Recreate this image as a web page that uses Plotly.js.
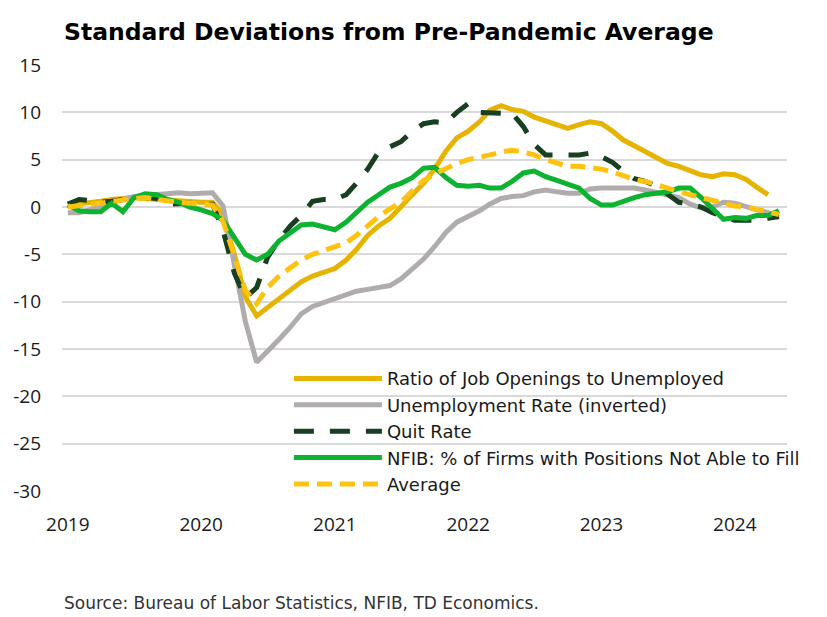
<!DOCTYPE html>
<html>
<head>
<meta charset="utf-8">
<script src="https://cdn.plot.ly/plotly-3.0.1.min.js"></script>
<style>
  html, body { margin: 0; padding: 0; background: #fff; }
  #chart { width: 827px; height: 617px; }
</style>
</head>
<body>
<div id="chart"></div>
<script>
// monthly observations, Jan 2019 onward
const months = [];
for (let y = 2019; y <= 2024; y++) {
  for (let m = 1; m <= 12; m++) months.push(`${y}-${String(m).padStart(2, '0')}-01`);
}

const ratioJobs = [
  0.2, 0.3, 0.5, 0.6, 0.8, 0.9, 1.0, 0.9, 0.8, 0.7, 0.6, 0.5,
  0.5, 0.5, -0.8, -5.0, -9.5, -11.5, -10.6, -9.8, -8.8, -7.9, -7.3, -6.9,
  -6.5, -5.6, -4.5, -3.0, -2.0, -1.2, 0.1, 1.3, 2.5, 4.0, 5.9, 7.3,
  8.0, 9.0, 10.2, 10.7, 10.3, 10.1, 9.5, 9.1, 8.6, 8.3, 8.7, 9.0,
  8.8, 8.0, 7.1, 6.5, 5.9, 5.2, 4.6, 4.3, 3.8, 3.4, 3.2, 3.5,
  3.4, 2.9, 2.1, 1.3
];
const unempInv = [
  -0.6, -0.6, -0.3, 0.1, 0.5, 0.8, 1.1, 1.2, 1.3, 1.5, 1.5, 1.4,
  1.4, 1.5, 0.1, -5.8, -12.1, -16.4, -15.3, -14.0, -12.7, -11.3, -10.5, -10.1,
  -9.7, -9.2, -8.9, -8.7, -8.5, -8.3, -7.6, -6.6, -5.5, -4.2, -2.7, -1.6,
  -1.0, -0.4, 0.3, 0.9, 1.1, 1.2, 1.6, 1.8, 1.6, 1.45, 1.45, 1.9,
  2.0, 2.0, 2.0, 2.0, 1.8, 1.5, 1.3, 1.0, 0.3, -0.1, 0.0, 0.5,
  0.4, 0.0, -0.3, -0.6, -1.1
];
const quitRate = [
  0.3, 0.8, 0.7, 0.5, 0.6, 0.8, 1.0, 1.0, 0.9, 0.3, 0.4, 0.4,
  0.3, 0.3, -2.5, -7.0, -9.6, -8.5, -5.3, -3.5, -2.0, -0.9, 0.6, 0.8,
  0.8, 1.3, 2.5, 4.0, 5.8, 6.3, 6.9, 8.0, 8.8, 9.0, 8.9, 10.0,
  10.9, 10.0, 9.9, 9.9, 9.9, 8.5, 6.6, 5.5, 5.5, 5.5, 5.5, 5.7,
  5.3, 4.7, 3.8, 3.0, 2.7, 2.2, 1.4, 0.5, 0.3, 0.0, -0.6, -1.0,
  -1.4, -1.4, -1.4, -1.2, -1.0
];
const nfibUnfilled = [
  0.2, -0.4, -0.5, -0.5, 0.4, -0.5, 1.0, 1.4, 1.3, 0.8, 0.5, 0.0,
  -0.3, -0.7, -1.4, -3.2, -5.0, -5.6, -5.0, -3.6, -2.8, -1.9, -1.8, -2.1,
  -2.4, -1.6, -0.6, 0.5, 1.3, 2.1, 2.5, 3.1, 4.1, 4.2, 3.1, 2.3,
  2.2, 2.3, 2.0, 2.0, 2.7, 3.6, 3.8, 3.2, 2.8, 2.4, 2.0, 0.9,
  0.2, 0.2, 0.6, 1.0, 1.3, 1.5, 1.6, 2.0, 2.0, 1.0, -0.1, -1.3,
  -1.1, -1.2, -0.9, -0.9, -0.4
];
const average = [
  0.0, 0.1, 0.3, 0.4, 0.6, 0.7, 0.9, 1.0, 0.8, 0.6, 0.5, 0.4,
  0.3, 0.2, -1.5, -5.3, -8.8, -10.2, -8.5, -7.3, -6.4, -5.6, -5.0, -4.6,
  -4.3, -3.8, -3.0, -2.0, -1.0, -0.2, 0.5, 1.7, 2.8, 3.5, 4.1, 4.6,
  5.0, 5.2, 5.5, 5.8, 6.0, 5.8, 5.5, 5.0, 4.6, 4.3, 4.3, 4.2,
  4.0, 3.7, 3.3, 2.9, 2.7, 2.4, 2.0, 1.6, 1.3, 0.9, 0.6, 0.3,
  0.1, 0.0, -0.2, -0.5, -0.8
];
const yearTicks = ['2019-01-01', '2020-01-01', '2021-01-01', '2022-01-01', '2023-01-01', '2024-01-01'];
const yearLabels = ['2019', '2020', '2021', '2022', '2023', '2024'];
const yTicks = [15, 10, 5, 0, -5, -10, -15, -20, -25, -30];
const yLabels = ['15', '10', '5', '0', '-5', '-10', '-15', '-20', '-25', '-30'];

const TICK_FONT = '"Open Sans", sans-serif';
const TEXT_FONT = '"DejaVu Sans", "Open Sans", sans-serif';

const series = [
  { name: 'Ratio of Job Openings to Unemployed', y: ratioJobs, color: '#E6B400', dash: 'solid' },
  { name: 'Unemployment Rate (inverted)', y: unempInv, color: '#B0ACAC', dash: 'solid' },
  { name: 'Quit Rate', y: quitRate, color: '#173F20', dash: '20px,16px' },
  { name: 'NFIB: % of Firms with Positions Not Able to Fill', y: nfibUnfilled, color: '#0DB330', dash: 'solid' },
  { name: 'Average', y: average, color: '#FFC20E', dash: '15px,8px' },
];

const traces = series.map(s => ({
  x: months.slice(0, s.y.length), y: s.y,
  type: 'scatter', mode: 'lines',
  name: s.name,
  line: { color: s.color, width: 5, dash: s.dash },
  hovertemplate: '%{y:.1f}<extra></extra>',
}));

Plotly.newPlot('chart', traces, {
  width: 827, height: 617,
  paper_bgcolor: '#fff', plot_bgcolor: '#fff',
  font: { family: TICK_FONT, size: 19, color: '#1a1a1a' },
  margin: { t: 65, r: 40, b: 126, l: 62, autoexpand: false },
  title: {
    text: '<b>Standard Deviations from Pre-Pandemic Average</b>',
    font: { family: TEXT_FONT, size: 23.5, color: '#000' },
    x: 64 / 827, xanchor: 'left', xref: 'container',
    y: 1 - 32 / 617, yanchor: 'middle', yref: 'container',
  },
  xaxis: {
    type: 'date',
    range: ['2018-12-16', '2024-05-23'],
    tickvals: yearTicks, ticktext: yearLabels,
    ticks: 'outside', ticklen: 16, tickcolor: 'rgba(0,0,0,0)',
    showgrid: false, zeroline: false, showline: false,
  },
  yaxis: {
    range: [-30, 15],
    tickvals: yTicks, ticktext: yLabels,
    showgrid: true, gridcolor: '#D9D9D9', gridwidth: 2,
    zeroline: false, showline: false,
    ticks: '', ticklabelstandoff: 20,
  },
  legend: {
    x: 0.313, xanchor: 'left',
    y: 0.307, yanchor: 'top',
    bgcolor: 'rgba(0,0,0,0)',
    itemwidth: 88,
    tracegroupgap: 0,
    font: { family: TEXT_FONT, size: 18, color: '#1a1a1a' },
  },
  showlegend: true,
  annotations: [{
    text: 'Source: Bureau of Labor Statistics, NFIB, TD Economics.',
    xref: 'paper', yref: 'paper', x: 0, y: -0.262,
    xanchor: 'left', yanchor: 'middle', showarrow: false,
    font: { family: TEXT_FONT, size: 17, color: '#333' },
  }],
}, { displayModeBar: false, responsive: false });
</script>
</body>
</html>
